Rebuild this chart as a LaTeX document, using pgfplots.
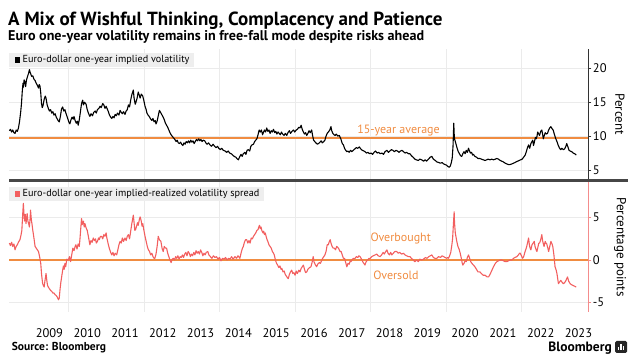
\documentclass[border=0pt]{standalone}
\usepackage{fontspec}
\setmainfont{PT Sans}
\usepackage{pgfplots}
\usepackage{pgfplotstable}
\pgfplotsset{compat=1.18}
\definecolor{avgc}{RGB}{240,140,65}
\definecolor{sprc}{RGB}{242,95,95}
\definecolor{redax}{RGB}{244,140,140}
\definecolor{sepc}{RGB}{70,70,70}
\definecolor{gridc}{RGB}{235,235,235}
\definecolor{legbg}{RGB}{238,238,238}

\pgfplotstableread{
x y
2008.44 10.8
2008.47 11.0
2008.50 10.6
2008.53 10.9
2008.56 10.5
2008.59 10.4
2008.62 10.9
2008.65 10.7
2008.68 11.2
2008.71 12.2
2008.74 13.6
2008.76 14.8
2008.78 16.5
2008.80 17.8
2008.81 17.2
2008.83 18.3
2008.85 18.0
2008.87 17.3
2008.89 18.2
2008.92 18.8
2008.95 19.3
2008.97 19.8
2008.99 19.4
2009.01 19.1
2009.03 18.8
2009.06 18.9
2009.09 18.4
2009.12 18.2
2009.15 17.8
2009.18 17.5
2009.21 17.1
2009.23 17.6
2009.25 17.4
2009.27 16.4
2009.29 14.8
2009.31 14.2
2009.33 14.5
2009.36 15.4
2009.39 15.9
2009.41 15.6
2009.44 14.6
2009.47 14.1
2009.50 13.7
2009.53 13.9
2009.56 13.4
2009.59 13.6
2009.62 13.1
2009.65 13.3
2009.68 12.8
2009.71 12.5
2009.74 12.2
2009.76 12.1
2009.79 12.9
2009.82 14.0
2009.85 14.3
2009.88 13.7
2009.91 13.9
2009.94 13.3
2009.96 13.0
2009.99 12.5
2010.02 12.0
2010.04 11.8
2010.07 12.4
2010.10 12.8
2010.13 12.5
2010.15 12.9
2010.18 12.3
2010.21 11.9
2010.24 12.2
2010.26 11.6
2010.29 12.4
2010.32 13.6
2010.35 14.8
2010.38 15.3
2010.40 14.6
2010.43 15.0
2010.47 14.7
2010.50 13.9
2010.53 13.4
2010.57 12.9
2010.60 13.3
2010.64 13.0
2010.67 13.5
2010.71 13.7
2010.74 13.4
2010.77 13.9
2010.81 14.1
2010.84 14.4
2010.87 14.2
2010.91 14.8
2010.94 14.6
2010.97 14.1
2011.00 14.4
2011.03 14.0
2011.06 13.6
2011.09 13.1
2011.12 12.8
2011.15 12.6
2011.18 12.9
2011.21 12.7
2011.24 13.2
2011.27 13.0
2011.30 13.4
2011.34 13.1
2011.37 13.8
2011.40 13.5
2011.43 13.3
2011.46 13.6
2011.50 13.2
2011.53 13.7
2011.56 13.9
2011.59 14.6
2011.62 14.3
2011.65 15.3
2011.68 16.1
2011.72 16.8
2011.74 15.6
2011.77 14.7
2011.79 15.0
2011.82 15.6
2011.85 16.5
2011.88 16.0
2011.90 15.6
2011.93 16.2
2011.97 15.9
2012.00 15.2
2012.03 14.4
2012.06 13.9
2012.08 13.4
2012.11 13.1
2012.14 12.9
2012.17 12.6
2012.21 12.3
2012.24 12.6
2012.27 12.1
2012.30 12.3
2012.32 11.8
2012.35 12.2
2012.38 13.0
2012.41 13.8
2012.44 13.5
2012.47 13.2
2012.51 12.8
2012.54 12.4
2012.57 11.9
2012.60 11.6
2012.63 11.3
2012.66 10.9
2012.69 10.5
2012.72 10.2
2012.76 9.9
2012.79 9.7
2012.82 9.5
2012.85 9.2
2012.88 9.4
2012.91 9.0
2012.94 8.9
2012.97 9.1
2013.00 8.8
2013.03 8.6
2013.06 9.0
2013.09 8.8
2013.12 9.2
2013.15 9.0
2013.18 9.3
2013.21 9.0
2013.24 9.4
2013.27 9.1
2013.30 9.3
2013.33 8.9
2013.36 9.2
2013.39 9.5
2013.42 9.3
2013.45 9.6
2013.48 9.3
2013.51 9.5
2013.54 9.2
2013.57 9.4
2013.61 9.3
2013.64 9.0
2013.67 8.8
2013.71 9.0
2013.75 8.7
2013.79 8.5
2013.83 8.8
2013.87 8.5
2013.91 8.3
2013.95 8.5
2013.98 8.2
2014.02 8.0
2014.06 8.2
2014.10 7.9
2014.15 7.8
2014.19 7.6
2014.23 7.8
2014.27 7.5
2014.31 7.4
2014.35 7.2
2014.39 7.0
2014.43 6.9
2014.46 6.7
2014.50 6.5
2014.53 6.9
2014.57 7.3
2014.60 7.0
2014.63 7.4
2014.67 7.6
2014.70 7.3
2014.73 7.9
2014.76 8.0
2014.80 7.8
2014.83 8.5
2014.86 8.7
2014.90 8.8
2014.93 9.2
2014.96 9.4
2014.99 9.6
2015.02 10.2
2015.05 10.9
2015.08 10.6
2015.11 10.9
2015.14 10.2
2015.16 10.5
2015.19 10.9
2015.22 10.6
2015.25 11.2
2015.28 10.7
2015.31 10.9
2015.34 10.4
2015.37 10.8
2015.40 10.6
2015.43 11.0
2015.46 10.5
2015.49 10.7
2015.52 10.3
2015.55 10.6
2015.58 10.4
2015.61 10.2
2015.64 10.6
2015.67 10.3
2015.71 10.1
2015.74 10.4
2015.78 10.1
2015.81 10.5
2015.85 10.8
2015.88 10.4
2015.92 10.7
2015.96 10.9
2015.99 10.6
2016.03 10.9
2016.06 11.0
2016.10 11.3
2016.13 11.2
2016.16 11.6
2016.19 11.0
2016.22 10.6
2016.25 10.3
2016.28 10.5
2016.31 10.1
2016.34 10.4
2016.37 10.8
2016.40 10.5
2016.44 10.9
2016.46 10.2
2016.49 9.4
2016.52 9.2
2016.55 9.0
2016.59 8.8
2016.62 8.9
2016.66 9.1
2016.69 9.3
2016.72 9.0
2016.76 9.2
2016.79 9.4
2016.82 10.0
2016.85 10.4
2016.88 10.6
2016.92 10.9
2016.95 11.4
2016.97 10.8
2017.00 10.4
2017.03 10.2
2017.06 10.1
2017.09 10.3
2017.13 10.0
2017.17 10.1
2017.21 9.6
2017.25 8.9
2017.28 8.7
2017.31 8.2
2017.34 7.9
2017.37 7.7
2017.40 7.8
2017.43 7.6
2017.47 7.9
2017.50 7.7
2017.54 7.9
2017.58 8.1
2017.62 8.3
2017.66 8.2
2017.70 8.4
2017.74 8.1
2017.78 7.9
2017.82 7.8
2017.85 7.7
2017.89 7.5
2017.93 7.6
2017.97 7.4
2018.01 7.5
2018.05 7.3
2018.09 7.6
2018.13 7.8
2018.17 7.5
2018.21 7.6
2018.25 7.4
2018.30 7.5
2018.34 7.3
2018.38 7.7
2018.43 7.9
2018.47 7.6
2018.51 7.8
2018.55 8.0
2018.59 7.9
2018.63 7.7
2018.67 7.9
2018.71 7.8
2018.75 7.6
2018.79 7.8
2018.83 7.9
2018.87 7.7
2018.91 7.5
2018.95 7.6
2019.00 7.4
2019.04 7.4
2019.08 7.1
2019.12 6.9
2019.17 6.6
2019.21 6.5
2019.26 6.4
2019.30 6.6
2019.35 6.5
2019.40 6.3
2019.44 6.5
2019.48 6.3
2019.53 6.6
2019.58 6.9
2019.62 7.0
2019.66 6.6
2019.71 6.4
2019.75 6.2
2019.80 6.1
2019.85 6.0
2019.89 6.1
2019.93 5.9
2019.97 5.8
2020.01 5.7
2020.05 5.5
2020.08 5.4
2020.11 5.6
2020.14 6.2
2020.16 6.8
2020.18 8.5
2020.20 11.9
2020.21 10.4
2020.22 9.6
2020.24 9.2
2020.27 8.6
2020.30 8.0
2020.32 7.7
2020.35 7.4
2020.38 7.1
2020.41 7.0
2020.44 7.4
2020.47 7.7
2020.50 7.4
2020.53 7.9
2020.56 7.6
2020.59 8.2
2020.61 7.9
2020.64 7.5
2020.67 7.6
2020.70 7.2
2020.72 7.3
2020.76 7.0
2020.80 6.9
2020.84 6.7
2020.89 6.7
2020.93 6.6
2020.98 6.5
2021.03 6.4
2021.07 6.5
2021.11 6.6
2021.16 6.5
2021.20 6.6
2021.25 6.5
2021.30 6.6
2021.34 6.7
2021.38 6.6
2021.43 6.4
2021.47 6.3
2021.51 6.2
2021.56 6.0
2021.60 5.9
2021.65 5.8
2021.69 5.8
2021.74 5.9
2021.78 6.0
2021.82 6.1
2021.85 6.2
2021.89 6.3
2021.93 6.4
2021.97 6.5
2022.01 6.6
2022.05 6.9
2022.09 7.2
2022.12 7.7
2022.15 8.3
2022.18 8.7
2022.21 8.2
2022.24 8.9
2022.27 9.2
2022.29 9.4
2022.31 8.6
2022.34 9.3
2022.36 9.8
2022.38 9.6
2022.40 9.9
2022.42 10.6
2022.44 10.4
2022.47 10.1
2022.50 10.7
2022.53 10.9
2022.55 10.3
2022.57 9.6
2022.59 10.0
2022.62 10.5
2022.65 10.3
2022.68 10.4
2022.71 10.9
2022.74 11.2
2022.77 11.4
2022.80 11.1
2022.83 10.9
2022.86 10.3
2022.90 9.6
2022.93 9.2
2022.96 8.7
2023.00 8.2
2023.03 8.0
2023.06 8.2
2023.10 8.0
2023.13 8.1
2023.16 8.4
2023.19 8.9
2023.22 8.4
2023.25 7.9
2023.28 7.8
2023.32 7.7
2023.36 7.5
2023.40 7.4
2023.44 7.2
}\voltable

\pgfplotstableread{
x y
2008.44 2.0
2008.47 1.7
2008.50 2.1
2008.53 1.6
2008.56 1.9
2008.59 1.2
2008.62 1.6
2008.65 1.8
2008.68 2.1
2008.72 2.4
2008.75 3.0
2008.77 3.5
2008.79 5.2
2008.81 6.7
2008.83 5.1
2008.84 4.6
2008.86 5.4
2008.88 4.3
2008.90 5.1
2008.91 5.5
2008.93 4.6
2008.95 4.3
2008.97 3.9
2008.99 5.0
2009.00 5.9
2009.02 4.8
2009.04 4.2
2009.06 3.5
2009.09 2.6
2009.12 1.6
2009.15 1.4
2009.18 1.2
2009.21 1.0
2009.24 0.4
2009.27 -0.4
2009.29 -1.6
2009.32 -2.8
2009.34 -3.0
2009.36 -3.2
2009.38 -2.5
2009.41 -1.6
2009.43 -2.4
2009.45 -3.0
2009.47 -3.2
2009.50 -3.4
2009.53 -3.6
2009.56 -3.7
2009.59 -3.9
2009.62 -3.9
2009.65 -4.1
2009.68 -4.2
2009.71 -4.4
2009.74 -4.7
2009.76 -4.5
2009.78 -3.5
2009.80 -2.7
2009.83 -1.8
2009.85 -1.2
2009.87 -0.7
2009.89 -1.1
2009.91 -0.4
2009.93 -0.8
2009.96 0.1
2010.00 0.0
2010.03 0.4
2010.06 -0.2
2010.09 0.6
2010.12 1.4
2010.15 1.1
2010.18 1.6
2010.20 1.8
2010.23 1.3
2010.26 1.9
2010.29 1.6
2010.31 2.6
2010.33 3.8
2010.35 4.9
2010.37 4.2
2010.40 4.6
2010.42 3.9
2010.44 4.3
2010.47 3.8
2010.50 3.5
2010.53 2.8
2010.55 2.3
2010.57 1.8
2010.60 2.3
2010.63 2.1
2010.66 2.6
2010.69 2.3
2010.72 2.5
2010.74 2.0
2010.77 2.2
2010.80 2.6
2010.82 2.4
2010.85 2.8
2010.88 2.8
2010.91 2.5
2010.94 3.0
2010.97 2.8
2011.00 3.2
2011.02 2.6
2011.04 2.2
2011.06 1.8
2011.09 1.3
2011.12 0.9
2011.15 0.6
2011.18 0.9
2011.21 0.5
2011.24 0.8
2011.28 0.6
2011.31 1.2
2011.34 1.8
2011.37 2.2
2011.40 2.0
2011.43 2.6
2011.46 2.2
2011.50 2.6
2011.53 2.3
2011.56 2.8
2011.59 3.0
2011.62 2.5
2011.65 3.4
2011.68 4.3
2011.70 4.8
2011.72 5.3
2011.74 4.4
2011.76 3.5
2011.78 3.6
2011.80 3.9
2011.83 4.4
2011.85 4.1
2011.88 4.8
2011.90 5.1
2011.93 4.6
2011.95 4.0
2011.97 4.3
2012.00 3.5
2012.03 2.8
2012.06 2.2
2012.09 1.6
2012.12 1.2
2012.15 1.0
2012.18 0.6
2012.21 0.8
2012.24 0.4
2012.27 0.2
2012.29 0.2
2012.32 0.7
2012.35 1.6
2012.38 2.8
2012.41 2.4
2012.45 2.2
2012.48 1.4
2012.51 1.0
2012.54 1.6
2012.57 1.4
2012.60 1.4
2012.63 0.8
2012.66 0.4
2012.69 0.0
2012.72 -0.3
2012.75 0.1
2012.78 0.2
2012.81 0.0
2012.84 0.4
2012.87 0.2
2012.90 0.5
2012.93 0.1
2012.96 0.4
2012.99 0.3
2013.02 0.6
2013.05 0.3
2013.08 0.7
2013.11 0.9
2013.14 0.5
2013.17 1.0
2013.20 0.8
2013.23 0.4
2013.26 0.7
2013.29 0.5
2013.32 0.9
2013.35 0.6
2013.38 1.1
2013.41 0.8
2013.44 1.0
2013.47 0.7
2013.50 1.2
2013.53 0.9
2013.56 0.5
2013.59 0.8
2013.62 0.6
2013.65 0.9
2013.69 1.0
2013.72 0.6
2013.76 0.4
2013.80 0.2
2013.84 0.5
2013.88 0.3
2013.92 0.4
2013.96 0.1
2014.00 0.3
2014.04 -0.1
2014.08 0.2
2014.12 0.1
2014.16 0.3
2014.20 0.0
2014.24 0.2
2014.28 0.1
2014.32 0.4
2014.36 0.1
2014.41 0.4
2014.45 0.2
2014.49 0.5
2014.54 0.2
2014.57 0.8
2014.60 1.3
2014.63 1.6
2014.66 2.1
2014.69 2.4
2014.72 2.4
2014.75 2.0
2014.78 2.3
2014.81 2.0
2014.84 2.6
2014.87 2.5
2014.90 2.8
2014.93 3.0
2014.96 3.2
2014.99 3.5
2015.02 3.6
2015.04 3.9
2015.06 4.1
2015.08 3.7
2015.10 3.9
2015.12 3.5
2015.15 3.2
2015.17 3.4
2015.19 3.0
2015.21 3.2
2015.24 2.7
2015.26 2.4
2015.28 2.2
2015.31 1.8
2015.34 1.6
2015.37 1.4
2015.40 1.0
2015.43 0.8
2015.45 0.6
2015.48 0.0
2015.51 -0.4
2015.54 -0.6
2015.57 -0.9
2015.60 -0.7
2015.63 -1.1
2015.65 -1.0
2015.68 -1.4
2015.71 -1.3
2015.74 -1.7
2015.77 -1.9
2015.80 -2.1
2015.82 -2.2
2015.85 -1.7
2015.88 -1.4
2015.91 -1.2
2015.94 -1.6
2015.97 -1.5
2016.00 -1.8
2016.03 -1.3
2016.06 -1.6
2016.10 -1.2
2016.13 -1.4
2016.16 -1.0
2016.19 -0.8
2016.22 -0.6
2016.25 -1.1
2016.28 -1.5
2016.31 -1.4
2016.34 -1.1
2016.38 -0.9
2016.42 -0.8
2016.45 -0.3
2016.48 0.4
2016.50 -0.2
2016.53 -0.5
2016.57 -0.8
2016.60 -0.5
2016.64 -0.3
2016.67 -0.4
2016.69 -0.2
2016.73 0.2
2016.76 0.4
2016.79 0.6
2016.82 1.0
2016.85 1.8
2016.88 1.8
2016.90 2.1
2016.93 2.4
2016.95 2.0
2016.98 1.6
2017.01 1.4
2017.04 1.4
2017.07 1.2
2017.10 1.6
2017.13 1.5
2017.16 1.3
2017.19 1.0
2017.22 1.0
2017.25 0.6
2017.28 0.2
2017.31 0.2
2017.34 -0.3
2017.37 -0.8
2017.40 -0.4
2017.43 -0.5
2017.46 -0.1
2017.48 -0.2
2017.52 0.1
2017.55 0.2
2017.59 0.2
2017.62 0.4
2017.66 0.3
2017.69 0.5
2017.72 0.4
2017.76 0.1
2017.79 -0.2
2017.82 -0.4
2017.85 -0.6
2017.88 -0.2
2017.92 0.0
2017.96 0.2
2017.99 0.2
2018.03 0.4
2018.07 0.5
2018.12 0.6
2018.16 0.7
2018.20 0.5
2018.25 0.4
2018.29 0.6
2018.33 0.9
2018.36 0.7
2018.40 1.0
2018.43 1.2
2018.46 0.8
2018.50 0.6
2018.53 0.9
2018.56 0.6
2018.60 0.8
2018.64 1.0
2018.69 1.0
2018.73 0.8
2018.77 0.9
2018.82 0.7
2018.87 0.8
2018.91 0.6
2018.95 0.5
2019.00 0.4
2019.04 0.4
2019.08 0.2
2019.13 0.0
2019.17 -0.2
2019.22 0.0
2019.26 -0.2
2019.30 0.1
2019.35 0.0
2019.40 0.1
2019.45 0.3
2019.49 0.2
2019.54 0.4
2019.58 0.5
2019.62 0.6
2019.66 0.3
2019.70 0.2
2019.75 0.2
2019.80 0.4
2019.85 0.3
2019.89 0.5
2019.93 0.4
2019.97 0.3
2020.01 0.2
2020.04 0.3
2020.06 0.2
2020.09 0.5
2020.12 0.9
2020.15 1.8
2020.17 2.6
2020.19 4.2
2020.21 5.7
2020.22 4.4
2020.24 3.2
2020.26 2.7
2020.28 2.2
2020.31 1.6
2020.34 1.3
2020.37 0.8
2020.40 0.2
2020.42 -0.3
2020.44 -0.6
2020.47 -0.4
2020.50 -0.1
2020.53 -0.2
2020.56 0.3
2020.59 0.6
2020.62 0.2
2020.65 -0.2
2020.68 -0.4
2020.72 -0.6
2020.76 -0.8
2020.80 -1.1
2020.84 -1.4
2020.89 -1.4
2020.93 -1.6
2020.98 -1.8
2021.03 -1.8
2021.08 -2.0
2021.12 -2.0
2021.16 -1.7
2021.21 -1.2
2021.25 -0.8
2021.30 -0.4
2021.34 -0.2
2021.38 -0.1
2021.43 0.0
2021.47 0.0
2021.52 -0.1
2021.56 -0.2
2021.60 -0.2
2021.65 -0.1
2021.69 0.0
2021.74 0.0
2021.78 0.2
2021.82 0.3
2021.87 0.4
2021.91 0.6
2021.94 0.8
2021.96 0.8
2021.99 0.5
2022.02 0.2
2022.05 0.4
2022.08 0.9
2022.11 1.3
2022.13 1.6
2022.16 2.2
2022.18 2.6
2022.20 1.8
2022.22 1.4
2022.24 1.2
2022.27 1.8
2022.30 2.0
2022.33 2.2
2022.35 1.6
2022.38 1.2
2022.40 1.0
2022.43 1.6
2022.45 2.0
2022.47 2.0
2022.50 2.4
2022.53 3.0
2022.55 2.3
2022.57 1.9
2022.59 1.6
2022.62 2.2
2022.64 2.0
2022.66 1.9
2022.69 1.4
2022.71 1.0
2022.74 1.6
2022.77 2.2
2022.80 1.9
2022.82 1.6
2022.85 0.6
2022.88 -0.8
2022.91 -1.2
2022.93 -1.6
2022.95 -2.2
2022.97 -2.8
2023.00 -2.6
2023.03 -2.4
2023.06 -2.6
2023.10 -2.8
2023.13 -2.7
2023.16 -2.5
2023.19 -2.2
2023.21 -2.0
2023.24 -2.5
2023.28 -2.8
2023.31 -2.9
2023.35 -3.0
2023.40 -3.1
2023.44 -3.2
}\sprtable

\pgfplotsset{
  panel/.style={
    scale only axis, width=579.3pt, xmin=2008.43, xmax=2023.76,
    axis line style={draw=none},
    xtick={2010,2012,2014,2016,2018,2020,2022}, xticklabels={},
    x tick style={draw=none},
    xmajorgrids, ymajorgrids,
    grid style={gridc, line width=0.7pt},
    ytick pos=right, yticklabel pos=right,
    tick align=outside, major tick length=3pt,
    yticklabel style={font=\fontsize{12.5}{14}\selectfont, inner xsep=1.5pt},
    /pgf/number format/assume math mode=true,
    clip=false,
  }
}

\begin{document}
\begin{tikzpicture}
\path (0,0) rectangle (637pt,361pt);

% top panel
\begin{axis}[panel, at={(9pt,182pt)}, anchor=south west, height=130pt,
  ymin=3.67, ymax=22.85, ytick={5,10,15,20},
  y tick style={black!80, line width=0.6pt}]
\addplot[avgc, line width=1.3pt] coordinates {(2008.43,9.7) (2023.76,9.7)};
\addplot[black, line width=1.1pt, line join=round] table[x=x, y=y] {\voltable};
\draw[black!80, line width=0.8pt] (rel axis cs:1,0) -- (rel axis cs:1,1);
\end{axis}

% bottom panel
\begin{axis}[panel, at={(9pt,49.3pt)}, anchor=south west, height=129.7pt,
  ymin=-6.11, ymax=9.22, ytick={-5,0,5},
  y tick style={redax, line width=0.6pt},
  extra x ticks={2009.5,2010.5,2011.5,2012.5,2013.5,2014.5,2015.5,2016.5,2017.5,2018.5,2019.5,2020.5,2021.5,2022.5,2023.5},
  extra x tick labels={2009,2010,2011,2012,2013,2014,2015,2016,2017,2018,2019,2020,2021,2022,2023},
  extra x tick style={grid=none, x tick style={draw=none},
     xticklabel style={anchor=center, inner sep=0pt, yshift=-18pt, font=\fontsize{12.5}{13}\selectfont}}]
\addplot[avgc, line width=1.3pt] coordinates {(2008.43,0) (2023.76,0)};
\addplot[sprc, line width=1.1pt, line join=round] table[x=x, y=y] {\sprtable};
\draw[redax, line width=0.8pt] (rel axis cs:1,0) -- (rel axis cs:1,1);
\end{axis}

% separator
\draw[sepc, line width=2.5pt] (9pt,180.5pt) -- (628pt,180.5pt);

% legends
\fill[legbg] (9pt,293.5pt) rectangle (194pt,308pt);
\fill[black] (14.5pt,298pt) rectangle (20pt,303.5pt);
\node[anchor=west, inner sep=0pt, font=\fontsize{10.2}{11}\selectfont] at (22.5pt,300.7pt) {Euro-dollar one-year implied volatility};

\fill[legbg] (9pt,160.3pt) rectangle (264pt,174pt);
\fill[sprc] (14.5pt,164.4pt) rectangle (20pt,169.9pt);
\node[anchor=west, inner sep=0pt, font=\fontsize{10.2}{11}\selectfont] at (22.5pt,167.2pt) {Euro-dollar one-year implied-realized volatility spread};

% annotations
\node[text=avgc, font=\fontsize{12}{14}\selectfont] at (398.5pt,230pt) {15-year average};
\node[text=avgc, font=\fontsize{12}{14}\selectfont] at (400.7pt,122pt) {Overbought};
\node[text=avgc, font=\fontsize{12}{14}\selectfont] at (396pt,86pt) {Oversold};

% axis titles
\node[rotate=-90, font=\fontsize{13}{15}\selectfont] at (620pt,247pt) {Percent};
\node[rotate=-90, font=\fontsize{13}{15}\selectfont] at (620pt,114pt) {Percentage points};

% titles
\node[anchor=base west, inner sep=0pt, font=\fontsize{19}{21}\selectfont\bfseries] at (8pt,335pt) {A Mix of Wishful Thinking, Complacency and Patience};
\node[anchor=base west, inner sep=0pt, font=\fontsize{14.1}{16}\selectfont\bfseries] at (8pt,320pt) {Euro one-year volatility remains in free-fall mode despite risks ahead};

% footer
\node[anchor=west, inner sep=0pt, font=\fontsize{11.5}{12}\selectfont\bfseries] at (11.7pt,13pt) {Source: Bloomberg};
\node[anchor=east, inner sep=0pt, font=\fontsize{13.5}{15}\selectfont\bfseries] at (612pt,13.3pt) {Bloomberg};
\fill[black!85, rounded corners=1.5pt] (615pt,8pt) rectangle (627pt,20pt);
\fill[white] (617.5pt,10.5pt) rectangle (619pt,13.5pt);
\fill[white] (620.2pt,10.5pt) rectangle (621.7pt,16.5pt);
\fill[white] (622.9pt,10.5pt) rectangle (624.4pt,15pt);
\end{tikzpicture}
\end{document}
